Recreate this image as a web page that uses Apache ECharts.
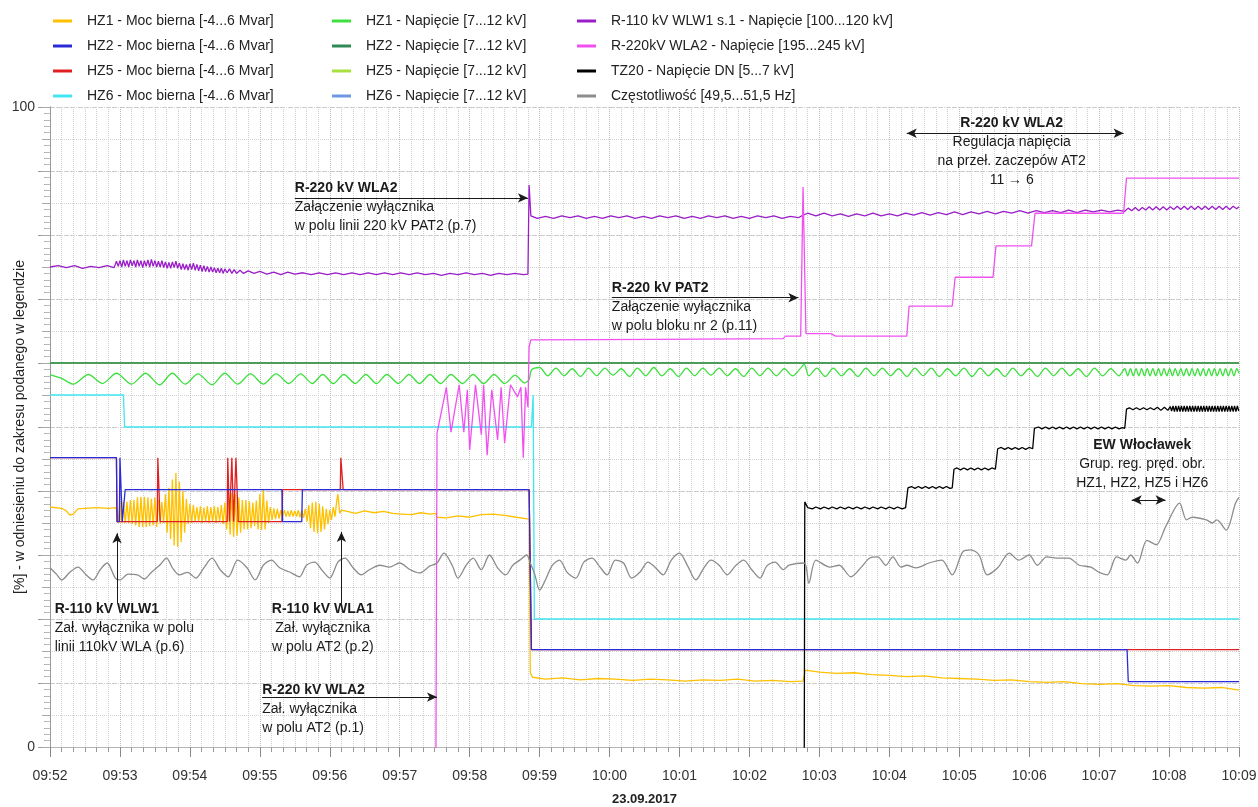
<!DOCTYPE html>
<html><head><meta charset="utf-8">
<script src="https://cdn.jsdelivr.net/npm/echarts/dist/echarts.min.js"></script>
<style>html,body{margin:0;padding:0;background:#fff}#c{width:1258px;height:807px}</style>
</head><body><div id="c"></div>
<script>
// time in seconds from 09:52:00, values in % of the range given in the legend
const xTickLabels = ['09:52','09:53','09:54','09:55','09:56','09:57','09:58','09:59','10:00','10:01','10:02','10:03','10:04','10:05','10:06','10:07','10:08','10:09'];
const dateLabel = '23.09.2017';
const yAxisName = '[%] - w odniesieniu do zakresu podanego w legendzie';
const names = [
 'HZ1 - Moc bierna [-4...6 Mvar]','HZ2 - Moc bierna [-4...6 Mvar]','HZ5 - Moc bierna [-4...6 Mvar]','HZ6 - Moc bierna [-4...6 Mvar]',
 'HZ1 - Napięcie [7...12 kV]','HZ2 - Napięcie [7...12 kV]','HZ5 - Napięcie [7...12 kV]','HZ6 - Napięcie [7...12 kV]',
 'R-110 kV WLW1 s.1 - Napięcie [100...120 kV]','R-220kV WLA2 - Napięcie [195...245 kV]','TZ20 - Napięcie DN [5...7 kV]','Częstotliwość [49,5...51,5 Hz]'
];

const hz1Q = [[0,37.5],[10,37.3],[14,36.9],[17,36.25],[20,36.4],[24,37.2],[30,37.3],[40,37.4],[50,37.3],[56,37.4],[57.5,37.0],
[58.5,35.0],[60,38.3],[61.5,35.0],[63,38.3],[64.5,35.0],[66,38.3],[67.5,35.0],[69,38.6],[70.5,34.8],[72,38.6],[73.5,34.6],[75,39.0],[76.5,34.4],[78,39.1],[79.5,34.4],[81,39.1],[82.5,34.4],[84,39.0],[85.5,34.5],[87,38.8],[88.5,34.6],[90,39.0],[91.5,34.4],[93,38.6],[94.5,34.8],[96,38.3],[97.5,35.0],[99,39.5],[100.5,33.5],[102,40.5],[103.5,32.5],[105,41.8],[106.5,31.5],[108,42.8],[109.5,31.25],[111,41.5],[112.5,32.0],[114,40.0],[115.5,33.5],[117,38.8],[118.5,34.8],[120,38.0],[121.5,35.0],[123,37.8],[124.5,35.2],
[126,37.5],[127.5,35.2],[129,37.6],[130.5,35.0],[132,37.4],[133.5,35.2],[135,37.6],[136.5,35.0],[138,37.5],[139.5,35.2],[141,37.6],[142.5,35.0],[144,37.5],[145.5,35.2],[147,37.8],[148.5,34.8],[150,38.2],
[151.5,34.0],[153,39.0],[154.5,33.2],[156,39.7],[157.5,32.8],[159,39.5],[160.5,33.0],[162,39.0],[163.5,33.5],[165,38.6],[166.5,34.0],
[168,38.6],[169.5,34.0],[171,38.4],[172.5,34.2],[174,38.2],[175.5,34.5],[177,38.5],[178.5,34.0],[180,39.5],[181.5,33.9],[183,40.2],[184.5,34.0],
[186,38.5],[187.5,35.0],[189,37.5],[190.5,35.5],[192,37.3],[193.5,35.6],[195,37.2],[196.5,35.7],
[198,37.0],[199.5,36.0],[201,37.0],[202.5,36.0],[204,36.9],[205.5,36.0],[207,37.0],[208.5,36.0],[210,36.9],[211.5,36.0],[213,37.0],[214.5,35.9],[216,37.0],[217.5,35.8],[219,37.2],
[220.5,35.2],[222,37.8],[223.5,34.2],[225,38.2],[226.5,33.6],[228,38.3],[229.5,33.4],[231,38.0],[232.5,33.6],[234,37.6],[235.5,34.0],[237,37.2],[238.5,34.8],[240,37.0],[241.5,35.5],[243,37.5],[244.5,36.0],[246,38.5],[247,39.5],[248.5,36.5],[250,37.0],
[255,36.8],[262,36.5],[270,36.9],[278,36.6],[286,36.8],[294,36.5],[302,36.4],[310,36.3],[318,36.6],[326,36.4],[331,36.5],[332,35.9],[340,35.8],[350,36.1],[360,35.9],[370,36.3],[380,36.4],[390,36.2],[400,35.9],[408,35.7],[411,35.6],
[412,11.6],[414,10.9],[425,10.6],[440,10.8],[455,10.5],[470,10.7],[485,10.6],[500,10.4],[515,10.6],[530,10.5],[545,10.3],[560,10.5],[575,10.4],[590,10.6],[605,10.3],[620,10.4],[635,10.2],[646,10.3],
[648,12.0],[660,11.7],[675,11.5],[690,11.6],[705,11.3],[720,11.2],[735,11.0],[750,11.1],[765,10.8],[780,10.7],[795,10.6],[810,10.4],[825,10.5],[840,10.2],[855,10.1],[870,10.2],[885,9.9],[900,9.8],[915,9.9],[930,9.6],[945,9.5],[960,9.6],[975,9.3],[990,9.2],[1005,9.3],[1020,8.9]];

const hz2Q = [[0,45.2],[57,45.2],[57.5,35.2],[59.5,35.2],[60,45.2],[61.5,45.2],[62,35.2],[63.5,35.2],[64.5,40.2],[199,40.2],[199.5,35.2],[216,35.2],[216.5,40.2],[411,40.2],[413,15.2],[924,15.2],[925,10.2],[1020,10.2]];

const hz5Q = [[0,45.2],[57,45.2],[57.5,35.2],[92,35.2],[92.5,45.2],[94,45.2],[94.5,35.2],[152,35.2],[152.5,45.2],[153.5,45.2],[154,35.2],[155.5,35.2],[156,45.2],[157,45.2],[157.5,35.2],[159,35.2],[159.5,45.2],[161,45.2],[161.5,35.2],[199,35.2],[199.5,40.2],[249,40.2],[249.5,45.2],[251,45.2],[251.5,40.2],[411,40.2],[413,15.2],[1020,15.2]];

const hz6Q = [[0,55],[63,55],[64,50],[413,50],[414.5,55],[415.5,20],[1020,20]];

const hz1U = [[0,58.2],[10,57.6],[20,56.7],[33,58.2],[45,56.8],[57,58.4],[70,56.7],[82,58.4],[94,56.6],[105,58.4],[116,56.7],[127,58.3],[139,56.6],[150,58.4],[161,56.7],[172,58.3],[183,56.7],[194,58.3],[205,56.8],[215,58.3],[225,56.8],[234,58.2],[243,56.8],[252,58.2],[262,56.8],[271,58.2],[280,56.8],[289,58.2],[299,56.8],[308,58.2],[317,56.8],[326,58.2],[335,56.8],[344,58.2],[354,56.8],[363,58.2],[372,56.8],[381,58.2],[390,56.8],[399,58.1],[407,56.9],[411,57.4],
[413,58.9],[420,59.3],[427,58.0],[434,59.2],[441,58.0],[448,59.1],[455,57.9],[462,59.2],[469,58.0],[476,59.2],[483,58.1],[490,59.1],[497,57.9],[504,59.2],[511,58.0],[518,59.3],[525,58.0],[532,59.1],[539,57.9],[546,59.2],[553,58.0],[560,59.2],[567,58.1],[574,59.2],[581,58.0],[588,59.1],[595,57.9],[602,59.2],[609,58.0],[616,59.2],[623,58.0],[630,59.1],[637,58.0],[644,59.2],[647,59.8],[651,58.0],[658,59.2],[665,57.9],[672,59.2],[679,58.0],[686,59.1],[693,57.9],[700,59.2],[707,58.0],[714,59.2],[721,58.0],[728,59.1],[735,57.9],[742,59.2],[749,58.0],[756,59.2],[763,57.9],[770,59.1],[777,58.0],[784,59.2],[791,57.9],[798,59.2],[805,58.0],[812,59.1],[819,57.9],[826,59.2],[833,58.0],[840,59.1],[847,57.9],[854,59.2],[861,58.0],[868,59.2],[875,58.0],[882,59.1],[889,57.9],[896,59.2],[903,58.0],[910,59.1],[917,58.0],[922,59.1],
[924.5,58.0],[926.9,59.1],[929.3,58.0],[931.7,59.1],[934.1,58.0],[936.5,59.1],[938.9,58.0],[941.3,59.1],[943.7,58.0],[946.1,59.1],[948.5,58.0],[950.9,59.1],[953.3,58.0],[955.7,59.1],[958.1,58.0],[960.5,59.1],[962.9,58.0],[965.3,59.1],[967.7,58.0],[970.1,59.1],[972.5,58.0],[974.9,59.1],[977.3,58.0],[979.7,59.1],[982.1,58.0],[984.5,59.1],[986.9,58.0],[989.3,59.1],[991.7,58.0],[994.1,59.1],[996.5,58.0],[998.9,59.1],[1001.3,58.0],[1003.7,59.1],[1006.1,58.0],[1008.5,59.1],[1010.9,58.0],[1013.3,59.1],[1015.7,58.0],[1018.1,59.1],[1020,58.4]];

const hz2U = [[0,60],[1020,60]];
const hz5U = [[0,60],[1020,60]];
const hz6U = [[0,60],[1020,60]];

const r110U = [[0,75.0],[7,75.2],[14,74.9],[21,75.2],[28,74.8],[35,75.1],[42,74.9],[49,75.2],[55,74.9],
[57,75.9],[58.5,75.1],[60,76.0],[61.5,75.0],[63,76.1],[64.5,75.1],[66,76.0],[67.5,75.0],[69,76.1],[70.5,75.2],[72,76.0],[73.5,75.0],[75,76.1],[76.5,75.1],[78,76.0],[79.5,74.9],[81,76.0],[82.5,75.1],[84,76.1],[85.5,75.0],[87,76.2],[88.5,75.1],[90,76.0],[91.5,75.0],[93,75.9],[94.5,75.0],[96,76.0],[97.5,74.9],[99,75.8],[100.5,74.8],[102,75.7],[103.5,74.8],[105,75.8],[106.5,74.9],[108,75.9],[109.5,74.8],[111,75.6],[112.5,74.6],[114,75.5],[115.5,74.6],[117,75.4],[118.5,74.5],[120,75.5],[121.5,74.6],[123,75.6],[124.5,74.5],[126,75.4],[127.5,74.4],[129,75.3],[130.5,74.3],[132,75.2],[133.5,74.3],[135,75.1],[136.5,74.2],[138,75.0],[139.5,74.2],[141,74.9],[142.5,74.1],[144,74.8],[145.5,74.1],[147,74.8],[148.5,74.0],[150,74.7],[152,74.1],[154,74.7],[156,74.0],[158,74.6],[160,74.0],[163,74.5],[166,74.0],[170,74.4],[175,74.0],[180,74.3],[186,73.9],[192,74.2],[198,73.8],[204,74.2],[210,73.9],[217,74.1],[224,73.8],[231,74.1],[238,73.8],[245,74.1],[252,73.8],[259,74.1],[266,73.8],[273,74.1],[280,73.8],[287,74.1],[294,73.8],[301,74.1],[308,73.8],[315,74.1],[322,73.8],[329,74.0],[336,73.7],[343,74.0],[350,73.8],[357,74.1],[364,73.8],[371,74.0],[378,73.7],[385,74.0],[392,73.8],[399,74.0],[406,73.8],[410,73.9],[411,87.8],[412.5,83.0],
[418,82.6],[425,82.9],[432,82.6],[439,83.0],[446,82.7],[453,83.0],[460,82.6],[467,82.9],[474,82.6],[481,83.0],[488,82.7],[495,83.0],[502,82.6],[509,82.9],[516,82.6],[523,83.0],[530,82.7],[537,83.0],[544,82.6],[551,82.9],[558,82.6],[565,83.0],[572,82.7],[579,83.0],[586,82.6],[593,82.9],[600,82.6],[607,83.0],[614,82.7],[621,83.0],[628,82.6],[635,82.9],[642,82.7],[646,83.1],[650,83.4],[657,83.0],[664,83.4],[671,83.0],[678,83.3],[685,82.9],[692,83.3],[699,83.0],[706,83.4],[713,83.0],[720,83.3],[727,83.0],[734,83.4],[741,83.1],[748,83.5],[755,83.1],[762,83.5],[769,83.2],[776,83.6],[783,83.2],[790,83.6],[797,83.3],[804,83.7],[811,83.3],[818,83.7],[825,83.4],[832,83.8],[839,83.4],[846,83.8],[853,83.5],[860,83.8],[867,83.5],[874,83.9],[881,83.5],[888,83.9],[895,83.6],[902,83.9],[909,83.6],[916,83.9],[922,83.7],
[925,84.2],[928,83.8],[931,84.3],[934,83.8],[937,84.3],[940,83.9],[943,84.4],[946,83.9],[949,84.4],[952,83.9],[955,84.4],[958,83.9],[961,84.4],[964,84.0],[967,84.5],[970,84.0],[973,84.5],[976,84.0],[979,84.5],[982,84.0],[985,84.5],[988,84.0],[991,84.5],[994,84.0],[997,84.5],[1000,84.0],[1003,84.5],[1006,84.0],[1009,84.5],[1012,84.0],[1015,84.5],[1018,84.1],[1020,84.4]];

const r220U = [[0,-5],[331,-5],[332,49],[340,56.2],[344,49.2],[351,56.6],[355,49.2],[358,55.8],[360,46.4],[365,56.6],[370,48.8],[372,56.6],[375,45.6],[379,55.8],[384,48],[387,56.2],[390,47.5],[395,56.6],[401,54.7],[404,56.2],[406,45.2],[408,56.2],[410,53.1],[411,62.5],[412.5,63.6],[520,63.7],[629,63.8],[631,64.2],[644,64.2],[646,87.5],[648.5,64.6],[670,64.6],[674,64.2],[735,64.2],[737,68.9],[774,68.9],[776.5,73.4],[809,73.4],[811.5,78.3],[842,78.3],[845,83.4],[921,83.4],[923.5,88.9],[1020,88.9]];

const tz20U = [[0,-5],[647,-5],[647.5,38.3],[650,37.4],[654,37.2],[657,37.5],[661,37.2],[664,37.5],[668,37.2],[671,37.5],[675,37.2],[678,37.5],[682,37.2],[685,37.5],[689,37.2],[692,37.5],[696,37.2],[699,37.5],[703,37.2],[706,37.5],[710,37.2],[713,37.5],[717,37.2],[720,37.5],[724,37.2],[727,37.5],[731,37.2],[734,37.4],
[736,40.5],[739,40.7],[742,40.4],[745,40.7],[748,40.4],[751,40.7],[754,40.4],[757,40.7],[760,40.4],[763,40.7],[766,40.4],[769,40.7],[772,40.4],[774,40.5],
[775.5,43.4],[778,43.6],[781,43.3],[784,43.6],[787,43.3],[790,43.6],[793,43.3],[796,43.6],[799,43.3],[802,43.6],[805,43.3],[808,43.6],[811,43.4],
[813,46.6],[816,46.8],[819,46.5],[822,46.8],[825,46.5],[828,46.8],[831,46.5],[834,46.8],[837,46.5],[840,46.8],[843,46.6],
[844.5,49.8],[848,50.0],[851,49.7],[854,50.0],[857,49.7],[860,50.0],[863,49.7],[866,50.0],[869,49.7],[872,50.0],[875,49.7],[878,50.0],[881,49.7],[884,50.0],[887,49.7],[890,50.0],[893,49.7],[896,50.0],[899,49.7],[902,50.0],[905,49.7],[908,50.0],[911,49.7],[914,50.0],[917,49.7],[920,49.9],[922,49.8],
[923.5,52.8],[926,53.0],[929,52.7],[932,53.0],[935,52.7],[938,53.0],[941,52.7],[944,53.0],[947,52.7],[950,53.1],[953,52.6],[956,53.1],[959,52.6],[961,53.2],[962.2,52.5],[963.4,53.3],[964.6,52.4],[965.8,53.3],[967,52.4],[968.2,53.3],[969.4,52.4],[970.6,53.3],[971.8,52.4],[973,53.3],[974.2,52.4],[975.4,53.3],[976.6,52.4],[977.8,53.3],[979,52.4],[980.2,53.3],[981.4,52.4],[982.6,53.3],[983.8,52.4],[985,53.3],[986.2,52.4],[987.4,53.3],[988.6,52.4],[989.8,53.3],[991,52.4],[992.2,53.3],[993.4,52.4],[994.6,53.3],[995.8,52.4],[997,53.3],[998.2,52.4],[999.4,53.3],[1000.6,52.4],[1001.8,53.3],[1003,52.4],[1004.2,53.3],[1005.4,52.4],[1006.6,53.3],[1007.8,52.4],[1009,53.3],[1010.2,52.4],[1011.4,53.3],[1012.6,52.4],[1013.8,53.3],[1015,52.4],[1016.2,53.3],[1017.4,52.4],[1018.6,53.3],[1019.8,52.5]];

const freq = [[0,28.0],[6,26.9],[10,26.1],[17,27.3],[24,28.1],[31,26.9],[37,26.1],[43,27.7],[49,28.75],[56,26.4],[60,26.1],[67,27.0],[75,26.9],[81,26.25],[87,27.3],[94,28.4],[100,29.5],[105,28.0],[111,26.9],[118,27.3],[125,26.4],[132,28.0],[139,29.5],[146,27.7],[153,26.6],[161,29.2],[169,28.0],[176,26.1],[183,28.4],[190,29.2],[197,28.0],[206,27.3],[214,26.6],[220,28.4],[227,28.9],[233,27.7],[240,26.4],[247,28.9],[253,29.5],[260,28.0],[267,26.9],[274,27.7],[283,28.4],[291,28.1],[300,28.75],[309,27.7],[317,27.2],[326,28.3],[332,28.75],[338,30.3],[345,28.4],[350,26.4],[357,28.4],[363,29.5],[370,27.7],[377,30.0],[384,28.0],[391,26.9],[397,28.4],[403,29.2],[409,30.0],[412,28.75],[416,26.9],[420,24.5],[425,26.1],[431,28.4],[437,29.2],[444,27.2],[451,26.4],[458,28.9],[465,29.5],[471,28.3],[478,26.9],[485,29.2],[492,28.75],[499,26.4],[506,27.3],[513,28.9],[519,28.1],[526,26.9],[533,29.2],[540,30.3],[547,28.3],[554,26.1],[561,28.0],[567,29.2],[574,28.4],[581,26.9],[588,28.3],[595,29.2],[602,27.7],[609,26.4],[615,28.3],[622,28.9],[629,27.7],[634,28.4],[647,28.75],[651,25.6],[657,29.2],[669,28.1],[677,28.4],[687,26.6],[696,28.1],[703,29.5],[710,29.7],[717,28.4],[723,29.7],[730,28.1],[735,28.4],[743,28.0],[754,28.75],[765,29.2],[774,26.9],[783,30.5],[790,30.8],[797,30.0],[804,26.9],[813,28.0],[823,30.3],[831,29.2],[840,30.0],[847,28.4],[855,29.7],[866,29.5],[874,29.5],[883,28.4],[893,28.1],[900,27.3],[907,26.9],[915,29.7],[923,29.2],[927,30.0],[933,28.75],[941,32.3],[949,31.6],[957,34.4],[969,38.1],[975,35.5],[980,35.9],[992,35.5],[997,35.0],[1001,35.5],[1009,33.9],[1017,38.1],[1020,39.0]];

// annotations (positions in data units: seconds, %)
const annotations = [
 {t:4, v:21.6, align:'left', lines:['R-110 kV WLW1','Zał. wyłącznika w polu','linii 110kV WLA (p.6)']},
 {t:234, v:21.6, align:'center', lines:['R-110 kV WLA1','Zał. wyłącznika','w polu AT2 (p.2)']},
 {t:182, v:8.9, align:'left', lines:['R-220 kV WLA2','Zał. wyłącznika','w polu AT2 (p.1)']},
 {t:210, v:87.3, align:'left', lines:['R-220 kV WLA2','Załączenie wyłącznika','w polu linii 220 kV PAT2 (p.7)']},
 {t:482, v:71.7, align:'left', lines:['R-220 kV PAT2','Załączenie wyłącznika','w polu bloku nr 2 (p.11)']},
 {t:825, v:97.5, align:'center', lines:['R-220 kV WLA2','Regulacja napięcia','na przeł. zaczepów AT2','11 → 6']},
 {t:937, v:47.2, align:'center', lines:['EW Włocławek','Grup. reg. pręd. obr.','HZ1, HZ2, HZ5 i HZ6']}
];
const arrows = [
 {from:[57.5,22.5], to:[57.5,33.4], both:false},
 {from:[250,22.5], to:[250,33.6], both:false},
 {from:[182,7.8], to:[332,7.8], both:false},
 {from:[210,85.8], to:[410,85.8], both:false},
 {from:[482,70.2], to:[642,70.2], both:false},
 {from:[735,95.9], to:[921,95.9], both:true},
 {from:[928,38.6], to:[957,38.6], both:true}
];

const colors = ['#ffc000','#2a2ad6','#e02020','#40e6f0','#3ee03e','#2f8a55','#a8e040','#6b98e0','#9a1ec8','#f050f0','#000000','#8c8c8c'];
const seriesData = [hz1Q,hz2Q,hz5Q,hz6Q,hz1U,hz2U,hz5U,hz6U,r110U,r220U,tz20U,freq];
const drawOrder = [3,0,2,1,7,6,5,4,8,9,10,11];
const FONT = '"Liberation Sans", Arial, sans-serif';

const chart = echarts.init(document.getElementById('c'), null, {renderer:'canvas'});
const series = drawOrder.map(i => ({
  name: names[i], type:'line', data: seriesData[i], showSymbol:false, symbol:'none',
  lineStyle:{width:1.3, color:colors[i]}, itemStyle:{color:colors[i]},
  smooth: (i===11 || i===4) ? 0.3 : false, animation:false, clip:true
}));
series.push({
  name:'__arrows', type:'line', data:[], silent:true,
  markLine:{silent:true, animation:false, symbolSize:[7,10], label:{show:false},
    lineStyle:{color:'#1a1a1a', width:1, type:'solid'},
    data: arrows.map(a => [{coord:a.from, symbol: a.both?'arrow':'none'},{coord:a.to, symbol:'arrow'}])}
});

function legendCol(left, idx){
  return {left:left, top:8, orient:'vertical', itemGap:9, itemWidth:19, itemHeight:3, icon:'rect',
    selectedMode:false, data: idx.map(i=>names[i]),
    textStyle:{fontSize:14, color:'#222', fontFamily:FONT, lineHeight:16, padding:[0,0,0,10]}};
}

chart.setOption({
  animation:false,
  backgroundColor:'#fff',
  textStyle:{fontFamily:FONT},
  legend:[legendCol(48,[0,1,2,3]), legendCol(327,[4,5,6,7]), legendCol(572,[8,9,10,11])],
  grid:{left:50, right:19, top:107, bottom:60, containLabel:false, outerBoundsMode:'none'},
  xAxis:[{
    type:'value', min:0, max:1020, interval:60,
    name: dateLabel, nameLocation:'middle', nameGap:46,
    nameTextStyle:{fontSize:13, fontWeight:'bold', color:'#222', fontFamily:FONT},
    axisLine:{lineStyle:{color:'#888'}},
    axisTick:{length:10, lineStyle:{color:'#888'}},
    minorTick:{show:true, splitNumber:6, length:5, lineStyle:{color:'#999'}},
    splitLine:{show:true, lineStyle:{color:'#bdbdbd', type:'dotted'}},
    minorSplitLine:{show:true, lineStyle:{color:'#cfcfcf', type:'dotted'}},
    axisLabel:{margin:22, fontSize:14, color:'#333', fontFamily:FONT, formatter: v => xTickLabels[Math.round(v/60)] || ''}
  },{
    type:'value', min:0, max:1020, position:'top', axisLine:{show:true, lineStyle:{color:'#b5b5b5'}},
    axisTick:{show:false}, axisLabel:{show:false}, splitLine:{show:false}
  }],
  yAxis:[{
    type:'value', min:0, max:100, interval:10,
    name: yAxisName, nameLocation:'middle', nameGap:23, nameMoveOverlap:false,
    nameTextStyle:{fontSize:14, color:'#222', fontFamily:FONT},
    axisLine:{show:true, lineStyle:{color:'#888'}},
    axisTick:{show:true, length:12, lineStyle:{color:'#999'}},
    minorTick:{show:true, splitNumber:10, length:6, lineStyle:{color:'#aaa'}},
    splitLine:{show:true, lineStyle:{color:'#c4c4c4', type:[4,3]}},
    axisLabel:{margin:15, fontSize:14, color:'#333', fontFamily:FONT, formatter: v => (v===0||v===100) ? String(v) : ''}
  },{
    type:'value', min:0, max:100, interval:5, position:'right',
    axisLine:{show:true, lineStyle:{color:'#999'}},
    axisTick:{show:true, inside:true, length:8, lineStyle:{color:'#aaa'}},
    minorTick:{show:true, splitNumber:5, length:5, lineStyle:{color:'#bbb'}},
    splitLine:{show:true, lineStyle:{color:'#d2d2d2', type:'dotted'}},
    axisLabel:{show:false}
  }],
  series: series
});

function drawAnnotations(){
  const els = [];
  annotations.forEach(a => {
    const p = chart.convertToPixel({gridIndex:0}, [a.t, a.v]);
    a.lines.forEach((ln, i) => {
      els.push({type:'text', x:p[0], y:p[1] + i*19, z:100, silent:true,
        style:{text:ln, fontSize:14, fontWeight: i===0 ? 'bold' : 'normal', fontFamily:FONT,
               fill:'#1a1a1a', align:a.align, verticalAlign:'middle'}});
    });
  });
  chart.setOption({graphic:els});
}
drawAnnotations();
</script>
</body></html>
